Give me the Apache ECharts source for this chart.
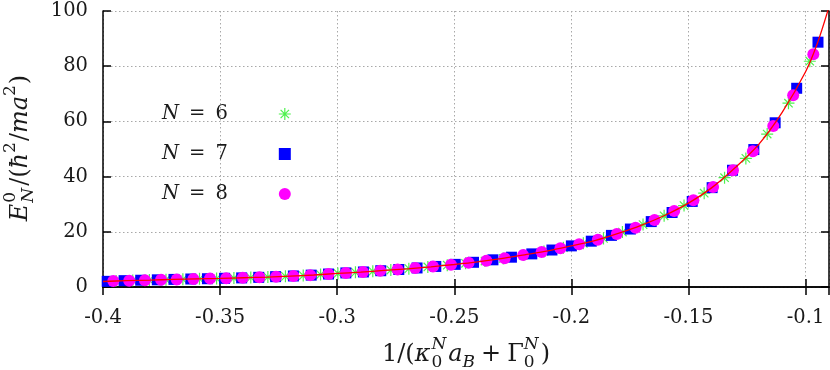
<!DOCTYPE html>
<html><head><meta charset="utf-8">
<script src="https://cdn.jsdelivr.net/npm/echarts@6/dist/echarts.min.js"></script>
<style>html,body{margin:0;padding:0;background:#fff}#c{width:830px;height:370px}</style>
</head><body><div id="c"></div>
<script>
// ---- data ----
const xTicks = [-0.4, -0.35, -0.3, -0.25, -0.2, -0.15, -0.1];
const yTicks = [0, 20, 40, 60, 80, 100];
const seriesNames = ['N = 6', 'N = 7', 'N = 8'];

const n6X = [-0.3944,-0.3873,-0.3802,-0.3731,-0.3659,-0.3588,-0.3515,-0.3441,-0.3369,-0.3296,-0.3221,-0.3145,-0.3071,-0.2997,-0.2922,-0.2848,-0.2771,-0.2694,-0.2613,-0.2530,-0.2452,-0.2369,-0.2291,-0.2203,-0.2117,-0.2034,-0.1949,-0.1863,-0.1782,-0.1694,-0.1604,-0.1519,-0.1433,-0.1346,-0.1255,-0.1164,-0.1073,-0.0982];
const n6Y = [2.2,2.4,2.5,2.65,2.8,2.95,3.05,3.25,3.4,3.6,3.85,4.15,4.5,4.9,5.3,5.7,6.15,6.65,7.25,7.9,8.6,9.4,10.35,11.6,12.85,14.25,15.85,17.6,19.9,22.6,25.8,29.5,34.0,39.6,46.6,55.4,66.6,81.8];

const n7X = [-0.3982,-0.3910,-0.3839,-0.3768,-0.3697,-0.3625,-0.3554,-0.3481,-0.3408,-0.3335,-0.3263,-0.3187,-0.3111,-0.3037,-0.2963,-0.2888,-0.2814,-0.2737,-0.2659,-0.2579,-0.2496,-0.2418,-0.2335,-0.2256,-0.2169,-0.2083,-0.2000,-0.1915,-0.1829,-0.1748,-0.1659,-0.1570,-0.1484,-0.1399,-0.1312,-0.1221,-0.1130,-0.1038,-0.0947];
const n7Y = [2.05,2.3,2.45,2.6,2.75,2.9,3.0,3.15,3.3,3.5,3.75,4.0,4.3,4.7,5.1,5.45,5.9,6.35,6.9,7.45,8.2,8.95,9.85,10.8,12.0,13.4,14.9,16.6,18.7,21.0,23.7,27.0,31.0,36.0,42.3,49.8,59.5,72.0,88.7];

const n8X = [-0.3956,-0.3888,-0.3821,-0.3752,-0.3685,-0.3614,-0.3543,-0.3474,-0.3403,-0.3332,-0.3261,-0.3187,-0.3115,-0.3037,-0.2963,-0.2890,-0.2816,-0.2742,-0.2667,-0.2591,-0.2514,-0.2439,-0.2363,-0.2285,-0.2206,-0.2127,-0.2047,-0.1967,-0.1887,-0.1806,-0.1726,-0.1645,-0.1561,-0.1479,-0.1395,-0.1310,-0.1225,-0.1138,-0.1053,-0.0967];
const n8Y = [2.2,2.3,2.45,2.6,2.75,2.9,3.05,3.15,3.35,3.5,3.75,4.0,4.3,4.7,5.1,5.45,5.9,6.35,6.85,7.4,8.05,8.8,9.55,10.45,11.55,12.7,14.0,15.5,17.1,19.2,21.5,24.3,27.5,31.4,36.2,42.3,49.2,58.3,69.5,84.3];

const fitX = [-0.40,-0.39,-0.38,-0.37,-0.36,-0.35,-0.34,-0.33,-0.32,-0.31,-0.30,-0.29,-0.28,-0.27,-0.26,-0.25,-0.24,-0.23,-0.22,-0.21,-0.20,-0.19,-0.18,-0.17,-0.16,-0.15,-0.14,-0.13,-0.12,-0.11,-0.10,-0.095,-0.09];
const fitY = [2.0,2.3,2.5,2.75,2.95,3.1,3.35,3.6,3.95,4.35,4.9,5.4,6.0,6.6,7.3,8.15,9.1,10.25,11.65,13.1,14.9,16.8,19.4,22.4,26.0,30.4,36.0,43.3,51.7,63.3,78.0,88.2,101.5];

// ---- helpers ----
const zip = (a, b) => a.map((v, i) => [v, b[i]]);
const FONT = 'DejaVu Serif';
const TXT = '#1a1a1a';
const FS = 19.5;            // tick labels / legend
const TS = 24, SS = 17;     // axis titles and their scripts
const ctx = document.createElement('canvas').getContext('2d');
function measure(t, size, it) { ctx.font = (it ? 'italic ' : '') + size + 'px "' + FONT + '"'; return ctx.measureText(t).width; }
function layout(frags) {
  let x = 0, pend = 0; const els = [];
  frags.forEach(f => {
    const size = f.s || TS;
    const w = measure(f.t, size, f.i);
    els.push({ type: 'text', x: x, y: f.dy || 0, silent: true,
      style: { text: f.t, fontSize: size, fontFamily: FONT, fontStyle: f.i ? 'italic' : 'normal', fill: TXT, verticalAlign: 'middle', align: 'left' } });
    if (f.stack) { pend = Math.max(pend, w); } else { x += Math.max(w, pend) + (f.sp || 0); pend = 0; }
  });
  return { els, width: x };
}
const SUP = -10, SUB = 8;
const xTitle = layout([
  { t: '1/(' }, { t: 'κ', i: true, sp: 1 },
  { t: 'N', s: SS, i: true, dy: SUP, stack: true }, { t: '0', s: SS, dy: SUB, sp: 2 },
  { t: 'a', i: true }, { t: 'B', s: SS, i: true, dy: SUB, sp: 6 },
  { t: '+', sp: 6 }, { t: 'Γ' },
  { t: 'N', s: SS, i: true, dy: SUP, stack: true }, { t: '0', s: SS, dy: SUB, sp: 2 },
  { t: ')' }
]);
const yTitle = layout([
  { t: 'E', i: true, sp: 1 },
  { t: '0', s: SS, dy: SUP, stack: true }, { t: 'N', s: SS, i: true, dy: SUB, sp: 2 },
  { t: '/(' }, { t: 'ħ', i: true },
  { t: '2', s: SS, dy: SUP, sp: 1 }, { t: '/' }, { t: 'm', i: true }, { t: 'a', i: true },
  { t: '2', s: SS, dy: SUP, sp: 1 }, { t: ')' }
]);

const chart = echarts.init(document.getElementById('c'), null, { renderer: 'canvas' });
const axisLine = { show: true, lineStyle: { color: '#000', width: 1.5 } };
const tick = { show: true, inside: true, length: 8, lineStyle: { color: '#000', width: 1.5 } };
const grid = { show: true, lineStyle: { color: '#a8a8a8', width: 1, type: [1.5, 2.5] } };
const starPath = 'path://M0,6L12,6M6,0L6,12M1.8,1.8L10.2,10.2M10.2,1.8L1.8,10.2';
const xMin = xTicks[0], xMax = -0.09, xStep = 0.05;
const matchTick = v => xTicks.find(t => Math.abs(t - v) < 1e-6);

chart.setOption({
  animation: false,
  grid: { left: 103, right: 1, top: 11, bottom: 83, containLabel: false },
  xAxis: [
    { type: 'value', min: xMin, max: xMax, interval: xStep, position: 'bottom',
      axisLine, axisTick: tick, splitLine: grid,
      axisLabel: { show: true, margin: 21, fontSize: FS, fontFamily: FONT, color: TXT, showMaxLabel: false,
        formatter: v => matchTick(v) !== undefined ? String(matchTick(v)) : '' } },
    { type: 'value', min: xMin, max: xMax, interval: xStep, position: 'top',
      axisLine, axisTick: tick, splitLine: { show: false }, axisLabel: { show: false } }
  ],
  yAxis: [
    { type: 'value', min: yTicks[0], max: yTicks[yTicks.length - 1], interval: 20, position: 'left',
      axisLine, axisTick: tick, splitLine: grid,
      axisLabel: { margin: 15, fontSize: FS, fontFamily: FONT, color: TXT } },
    { type: 'value', min: yTicks[0], max: yTicks[yTicks.length - 1], interval: 20, position: 'right',
      axisLine, axisTick: tick, splitLine: { show: false }, axisLabel: { show: false } }
  ],
  legend: {
    show: true, orient: 'vertical', left: 157, top: 98, align: 'right', itemGap: 18,
    itemWidth: 12, itemHeight: 12, selectedMode: false,
    data: [
      { name: seriesNames[0], icon: starPath, itemStyle: { color: 'rgba(0,0,0,0)', borderColor: '#22ee22', borderWidth: 1.2 } },
      { name: seriesNames[1], icon: 'rect' },
      { name: seriesNames[2], icon: 'circle' }
    ],
    formatter: name => '{i|N}{e|=}' + name.split('= ')[1] + '{g| }',
    textStyle: { fontSize: FS, fontFamily: FONT, color: TXT, lineHeight: 22,
      rich: { i: { fontStyle: 'italic', fontSize: FS, fontFamily: FONT, color: TXT },
              e: { fontSize: FS, fontFamily: FONT, color: TXT, padding: [0, 10, 0, 10] },
              g: { width: 46 } } }
  },
  graphic: [
    { type: 'group', x: 466 - xTitle.width / 2, y: 355, children: xTitle.els },
    { type: 'group', x: 21, y: 148 + yTitle.width / 2, rotation: Math.PI / 2, children: yTitle.els }
  ],
  series: [
    { name: seriesNames[0], type: 'scatter', data: zip(n6X, n6Y), symbol: starPath, symbolSize: 12,
      itemStyle: { color: 'rgba(0,0,0,0)', borderColor: '#22ee22', borderWidth: 1.2 } },
    { name: 'fit', type: 'line', data: zip(fitX, fitY), smooth: 0.3, showSymbol: false, symbol: 'none',
      lineStyle: { color: '#ff0000', width: 1.3 }, clip: true },
    { name: seriesNames[1], type: 'scatter', data: zip(n7X, n7Y), symbol: 'rect', symbolSize: 11,
      itemStyle: { color: '#0000ff', borderWidth: 0, opacity: 1 } },
    { name: seriesNames[2], type: 'scatter', data: zip(n8X, n8Y), symbol: 'circle', symbolSize: 12,
      itemStyle: { color: '#ff00ff', opacity: 1 } }
  ]
});
</script></body></html>
